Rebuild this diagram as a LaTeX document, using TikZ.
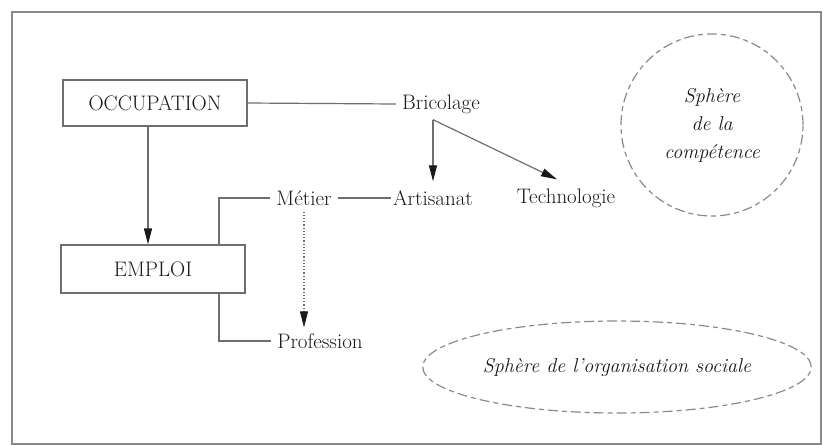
\documentclass[tikz,border=0pt]{standalone}
\usepackage{tikz}
\usepackage{xcolor}
\usetikzlibrary{arrows.meta, shapes.geometric, positioning}
\definecolor{ink}{HTML}{1A1A1A}
\definecolor{rule}{HTML}{6E6E6E}
\definecolor{halo}{HTML}{8A8A8A}

\begin{document}
\begin{tikzpicture}[x=1pt, y=-1pt,
    font=\fontsize{21}{28}\selectfont, text=ink,
    box/.style={draw=rule, line width=1.2pt, minimum width=184pt, minimum height=46pt},
    word/.style={inner sep=6pt},
    link/.style={draw=rule, line width=1.2pt},
    arr/.style={link, -{Triangle[length=16pt, width=8pt, color=ink]}},
    sphere/.style={draw=halo, line width=1.2pt, dash pattern=on 10pt off 4pt on 5pt off 4pt, font=\fontsize{20}{28}\selectfont\itshape}]
  \useasboundingbox (0,0) rectangle (823,445);
  \draw[draw=halo, line width=1.2pt] (12,12) rectangle (821,444);

  \node[box] (occ) at (155,103) {OCCUPATION};
  \node[box, minimum height=48pt] (emp) at (153,269) {EMPLOI};

  \node[word] (bric) at (441,104) {Bricolage};
  \node[word] (met) at (304,198) {Métier};
  \node[word] (art) at (433,198) {Artisanat};
  \node[word] (tech) at (566,198) {Technologie};
  \node[word] (prof) at (320,341) {Profession};

  \node[sphere, circle, minimum size=182pt, align=center] (comp) at (712,125) {Sphère\\de la\\compétence};
  \node[sphere, ellipse, minimum width=386pt, minimum height=92pt] (soc) at (617,367) {Sphère de l'organisation sociale};

  \draw[link] (occ.east) -- (bric.west);
  \draw[arr] ([xshift=-7pt]occ.south) -- ([xshift=-7pt]occ.south |- emp.north);
  \draw[arr] (bric.south -| art.north) -- ([yshift=3pt]art.north);
  \draw[arr] (bric.south -| art.north) -- ([xshift=-9pt,yshift=3pt]tech.north);
  \draw[link] (met.east) -- ([xshift=4pt]art.west);
  \draw[link] ([xshift=66pt]emp.north) |- (met.west);
  \draw[link] ([xshift=66pt]emp.south) |- (prof.west);
  \draw[arr, dotted] (met.south) -- (met.south |- prof.north);
\end{tikzpicture}
\end{document}
